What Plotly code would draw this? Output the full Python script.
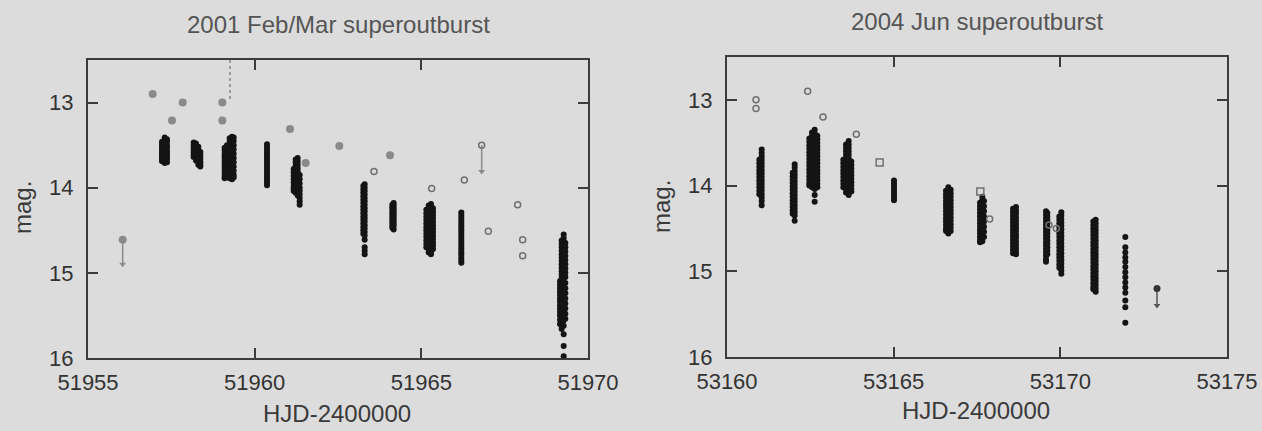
import plotly.graph_objects as go

# ---------------- Left panel: 2001 Feb/Mar superoutburst ----------------
left_ccd_t = [51957.22, 51957.30, 51957.37,
              51958.17, 51958.24, 51958.31, 51958.37,
              51959.10, 51959.17, 51959.25, 51959.32, 51959.37,
              51960.37,
              51961.17, 51961.23, 51961.29, 51961.35,
              51963.26, 51963.30,
              51964.13, 51964.17,
              51965.15, 51965.22, 51965.29, 51965.35,
              51966.20,
              51969.16, 51969.21, 51969.27, 51969.32]
left_ccd_m = [
    [13.46, 13.49, 13.52, 13.55, 13.58, 13.61, 13.64, 13.67, 13.69],
    [13.41, 13.44, 13.47, 13.50, 13.53, 13.56, 13.59, 13.62, 13.65, 13.68, 13.71],
    [13.43, 13.46, 13.50, 13.53, 13.57, 13.60, 13.63, 13.66, 13.70],
    [13.47, 13.50, 13.53, 13.56, 13.59, 13.62, 13.64],
    [13.48, 13.51, 13.54, 13.57, 13.60, 13.63, 13.66, 13.68],
    [13.52, 13.55, 13.58, 13.61, 13.64, 13.67, 13.70, 13.73],
    [13.58, 13.61, 13.64, 13.67, 13.70, 13.73, 13.75],
    [13.53, 13.56, 13.60, 13.63, 13.66, 13.69, 13.72, 13.75, 13.78, 13.81, 13.84, 13.87, 13.89],
    [13.50, 13.54, 13.58, 13.62, 13.66, 13.70, 13.74, 13.78, 13.82, 13.85],
    [13.42, 13.45, 13.49, 13.53, 13.57, 13.61, 13.65, 13.69, 13.73, 13.77, 13.81, 13.85, 13.89],
    [13.40, 13.43, 13.47, 13.51, 13.55, 13.59, 13.63, 13.67, 13.71, 13.75, 13.79, 13.83, 13.87, 13.90],
    [13.41, 13.45, 13.50, 13.55, 13.60, 13.65, 13.70, 13.75, 13.80, 13.85, 13.88],
    [13.49, 13.52, 13.55, 13.58, 13.61, 13.64, 13.67, 13.70, 13.73, 13.76, 13.79, 13.82, 13.85, 13.88, 13.91, 13.94, 13.97],
    [13.78, 13.82, 13.86, 13.90, 13.94, 13.98, 14.01, 14.04],
    [13.67, 13.70, 13.74, 13.78, 13.82, 13.86, 13.90, 13.94, 13.98, 14.02, 14.06],
    [13.65, 13.69, 13.73, 13.77, 13.81, 13.85, 13.89, 13.93, 13.97, 14.01, 14.05, 14.09],
    [13.85, 13.90, 13.95, 14.00, 14.04, 14.08, 14.12, 14.16, 14.20],
    [13.98, 14.02, 14.06, 14.10, 14.14, 14.18, 14.22, 14.26, 14.30, 14.34, 14.38, 14.42, 14.46, 14.50, 14.54],
    [13.96, 14.00, 14.04, 14.08, 14.12, 14.16, 14.20, 14.24, 14.28, 14.32, 14.36, 14.40, 14.44, 14.48, 14.52, 14.56, 14.61, 14.70, 14.74, 14.78],
    [14.20, 14.23, 14.26, 14.29, 14.32, 14.35, 14.38, 14.41, 14.44, 14.47],
    [14.18, 14.21, 14.24, 14.27, 14.30, 14.33, 14.36, 14.39, 14.42, 14.45, 14.49],
    [14.26, 14.30, 14.34, 14.38, 14.42, 14.46, 14.50, 14.54, 14.58, 14.62, 14.66, 14.70],
    [14.21, 14.25, 14.29, 14.33, 14.37, 14.41, 14.45, 14.49, 14.53, 14.57, 14.61, 14.65, 14.69, 14.73, 14.76],
    [14.19, 14.23, 14.27, 14.31, 14.35, 14.39, 14.43, 14.47, 14.51, 14.55, 14.59, 14.63, 14.67, 14.71, 14.75, 14.78],
    [14.24, 14.28, 14.32, 14.36, 14.40, 14.44, 14.48, 14.52, 14.56, 14.60, 14.64, 14.68, 14.72],
    [14.29, 14.32, 14.35, 14.38, 14.41, 14.44, 14.47, 14.50, 14.53, 14.56, 14.59, 14.62, 14.65, 14.68, 14.71, 14.74, 14.77, 14.80, 14.83, 14.86, 14.88],
    [15.10, 15.14, 15.18, 15.22, 15.26, 15.30, 15.34, 15.38, 15.42, 15.46, 15.50, 15.55, 15.60],
    [14.62, 14.66, 14.70, 14.74, 14.78, 14.82, 14.86, 14.90, 14.94, 14.98, 15.02, 15.06, 15.10, 15.14, 15.18, 15.22, 15.26, 15.30, 15.34, 15.38, 15.42, 15.46, 15.50, 15.54, 15.58, 15.62, 15.66],
    [14.55, 14.59, 14.63, 14.67, 14.71, 14.75, 14.79, 14.83, 14.87, 14.91, 14.95, 14.99, 15.03, 15.07, 15.11, 15.15, 15.19, 15.23, 15.27, 15.31, 15.35, 15.39, 15.43, 15.47, 15.51, 15.56, 15.62, 15.72, 15.86, 15.98],
    [14.65, 14.70, 14.75, 14.80, 14.85, 14.90, 14.95, 15.00, 15.05, 15.12, 15.18, 15.24, 15.30, 15.36, 15.42, 15.48, 15.54],
]
left_vis_t = [51956.94, 51957.52, 51957.84, 51959.03, 51959.03, 51961.06, 51961.53, 51962.54, 51964.06, 51956.04]
left_vis_m = [12.90, 13.21, 13.00, 13.00, 13.21, 13.31, 13.71, 13.51, 13.62, 14.61]
left_open_t = [51963.58, 51965.31, 51966.29, 51966.81, 51967.01, 51967.89, 51968.04, 51968.04]
left_open_m = [13.81, 14.01, 13.91, 13.50, 14.51, 14.20, 14.61, 14.80]
left_lim_t = [51956.04, 51966.81]
left_lim_from = [14.61, 13.50]
left_lim_to = [14.90, 13.81]
left_dash_t = [51959.26, 51959.26]
left_dash_m = [12.50, 12.96]

# ---------------- Right panel: 2004 Jun superoutburst ----------------
right_ccd_t = [53160.97, 53161.04,
               53161.97, 53162.03,
               53162.47, 53162.55, 53162.63, 53162.71,
               53163.49, 53163.57, 53163.65, 53163.73,
               53165.01,
               53166.57, 53166.64, 53166.71,
               53167.59, 53167.66, 53167.71,
               53168.58, 53168.67,
               53169.57, 53169.61,
               53169.97, 53170.03,
               53170.99, 53171.06,
               53171.95]
right_ccd_m = [
    [13.70, 13.74, 13.78, 13.82, 13.86, 13.90, 13.94, 13.98, 14.02, 14.06, 14.10],
    [13.58, 13.62, 13.66, 13.70, 13.74, 13.78, 13.82, 13.86, 13.90, 13.94, 13.98, 14.02, 14.06, 14.10, 14.14, 14.18, 14.23],
    [13.85, 13.89, 13.93, 13.97, 14.01, 14.05, 14.09, 14.13, 14.17, 14.21, 14.25, 14.29, 14.33],
    [13.75, 13.79, 13.83, 13.87, 13.91, 13.95, 13.99, 14.03, 14.07, 14.11, 14.15, 14.19, 14.23, 14.27, 14.31, 14.35, 14.41],
    [13.45, 13.49, 13.53, 13.57, 13.61, 13.65, 13.69, 13.73, 13.77, 13.81, 13.85, 13.89, 13.93, 13.97, 14.00],
    [13.38, 13.42, 13.46, 13.50, 13.54, 13.58, 13.62, 13.66, 13.70, 13.74, 13.78, 13.82, 13.86, 13.90, 13.94, 13.98, 14.02],
    [13.35, 13.39, 13.43, 13.47, 13.51, 13.55, 13.59, 13.63, 13.67, 13.71, 13.75, 13.79, 13.83, 13.87, 13.91, 13.95, 13.99, 14.04, 14.11, 14.19],
    [13.42, 13.46, 13.50, 13.54, 13.58, 13.62, 13.66, 13.70, 13.74, 13.78, 13.82, 13.86, 13.90, 13.94, 13.98, 14.02],
    [13.70, 13.74, 13.78, 13.82, 13.86, 13.90, 13.94, 13.98, 14.02],
    [13.52, 13.56, 13.60, 13.64, 13.68, 13.72, 13.76, 13.80, 13.84, 13.88, 13.92, 13.96, 14.00, 14.04, 14.08],
    [13.48, 13.52, 13.56, 13.60, 13.64, 13.68, 13.72, 13.76, 13.80, 13.84, 13.88, 13.92, 13.96, 14.00, 14.04, 14.08, 14.11],
    [13.72, 13.76, 13.80, 13.84, 13.88, 13.92, 13.96, 14.00, 14.04, 14.07],
    [13.94, 13.97, 14.00, 14.03, 14.06, 14.09, 14.12, 14.15, 14.17],
    [14.06, 14.10, 14.14, 14.18, 14.22, 14.26, 14.30, 14.34, 14.38, 14.42, 14.46, 14.50, 14.53],
    [14.02, 14.06, 14.10, 14.14, 14.18, 14.22, 14.26, 14.30, 14.34, 14.38, 14.42, 14.46, 14.50, 14.54, 14.56],
    [14.05, 14.09, 14.13, 14.17, 14.21, 14.25, 14.29, 14.33, 14.37, 14.41, 14.45, 14.49, 14.53],
    [14.20, 14.24, 14.28, 14.32, 14.36, 14.40, 14.44, 14.48, 14.52, 14.56, 14.60, 14.64, 14.66],
    [14.13, 14.17, 14.21, 14.25, 14.29, 14.33, 14.37, 14.41, 14.45, 14.49, 14.53, 14.57, 14.61, 14.65],
    [14.18, 14.24, 14.30, 14.36, 14.42, 14.48, 14.54, 14.60],
    [14.27, 14.31, 14.35, 14.39, 14.43, 14.47, 14.51, 14.55, 14.59, 14.63, 14.67, 14.71, 14.75, 14.79],
    [14.25, 14.29, 14.33, 14.37, 14.41, 14.45, 14.49, 14.53, 14.57, 14.61, 14.65, 14.69, 14.73, 14.77, 14.80],
    [14.30, 14.34, 14.38, 14.42, 14.46, 14.50, 14.54, 14.58, 14.62, 14.66, 14.70, 14.74, 14.78, 14.82, 14.86, 14.89],
    [14.32, 14.36, 14.40, 14.44, 14.48, 14.52, 14.56, 14.60, 14.64, 14.68, 14.72, 14.76, 14.80],
    [14.36, 14.40, 14.44, 14.48, 14.52, 14.56, 14.60, 14.64, 14.68, 14.72, 14.76, 14.80, 14.84, 14.88, 14.92, 14.96],
    [14.31, 14.35, 14.39, 14.43, 14.47, 14.51, 14.55, 14.59, 14.63, 14.67, 14.71, 14.75, 14.79, 14.83, 14.87, 14.91, 14.95, 14.99, 15.03],
    [14.42, 14.46, 14.50, 14.54, 14.58, 14.62, 14.66, 14.70, 14.74, 14.78, 14.82, 14.86, 14.90, 14.94, 14.98, 15.02, 15.06, 15.10, 15.14, 15.18, 15.21],
    [14.40, 14.44, 14.48, 14.52, 14.56, 14.60, 14.64, 14.68, 14.72, 14.76, 14.80, 14.84, 14.88, 14.92, 14.96, 15.00, 15.04, 15.08, 15.12, 15.16, 15.20, 15.24],
    [14.60, 14.72, 14.78, 14.84, 14.89, 14.95, 15.01, 15.07, 15.13, 15.19, 15.25, 15.34, 15.42, 15.60],
]
right_open_t = [53160.87, 53160.87, 53162.42, 53162.88, 53163.88, 53167.88, 53169.66, 53169.88]
right_open_m = [13.00, 13.10, 12.90, 13.20, 13.40, 14.39, 14.46, 14.50]
right_sq_t = [53164.58, 53167.60]
right_sq_m = [13.73, 14.07]
right_lim_t = [53172.90]
right_lim_from = [15.20]
right_lim_to = [15.40]

x_ticks_left = [51955, 51960, 51965, 51970]
x_ticks_right = [53160, 53165, 53170, 53175]
y_ticks = [13, 14, 15, 16]
titles = ["2001 Feb/Mar superoutburst", "2004 Jun superoutburst"]
xlabel = "HJD-2400000"
ylabel = "mag."

BLACK = "#141414"
GRAY = "#8a8a8a"
OPEN = "#707070"
FRAME = "#3c3c3c"
BG = "#dcdcdc"
FONT = "Liberation Sans, Arial, sans-serif"


def flatten(ts, ms):
    xs, ys = [], []
    for t, col in zip(ts, ms):
        for m in col:
            xs.append(t)
            ys.append(m)
    return xs, ys


fig = go.Figure()


def add_limits(ts, froms, tos, color, xa, ya):
    for t, a, b in zip(ts, froms, tos):
        fig.add_trace(go.Scatter(x=[t, t], y=[a, b], mode="lines", xaxis=xa, yaxis=ya,
                                 line=dict(color=color, width=1.5), showlegend=False,
                                 hoverinfo="skip"))
        fig.add_trace(go.Scatter(x=[t], y=[b], mode="markers", xaxis=xa, yaxis=ya,
                                 marker=dict(symbol="triangle-down", size=6, color=color),
                                 showlegend=False, hoverinfo="skip"))


# left panel
add_limits(left_lim_t, left_lim_from, left_lim_to, GRAY, "x", "y")
fig.add_trace(go.Scatter(x=left_dash_t, y=left_dash_m, mode="lines", xaxis="x", yaxis="y",
                         line=dict(color="#9a9a9a", width=2, dash="dot"), showlegend=False))
lx, ly = flatten(left_ccd_t, left_ccd_m)
fig.add_trace(go.Scatter(x=lx, y=ly, mode="markers", xaxis="x", yaxis="y",
                         marker=dict(size=6, color=BLACK), showlegend=False))
fig.add_trace(go.Scatter(x=left_vis_t, y=left_vis_m, mode="markers", xaxis="x", yaxis="y",
                         marker=dict(size=8, color=GRAY), showlegend=False))
fig.add_trace(go.Scatter(x=left_open_t, y=left_open_m, mode="markers", xaxis="x", yaxis="y",
                         marker=dict(size=6, color="rgba(0,0,0,0)", line=dict(color=OPEN, width=1.5)),
                         showlegend=False))

# right panel
add_limits(right_lim_t, right_lim_from, right_lim_to, "#555555", "x2", "y2")
rx, ry = flatten(right_ccd_t, right_ccd_m)
fig.add_trace(go.Scatter(x=rx, y=ry, mode="markers", xaxis="x2", yaxis="y2",
                         marker=dict(size=6, color=BLACK), showlegend=False))
fig.add_trace(go.Scatter(x=right_lim_t, y=right_lim_from, mode="markers", xaxis="x2", yaxis="y2",
                         marker=dict(size=7, color="#333333"), showlegend=False))
fig.add_trace(go.Scatter(x=right_open_t, y=right_open_m, mode="markers", xaxis="x2", yaxis="y2",
                         marker=dict(size=6, color="rgba(0,0,0,0)", line=dict(color=OPEN, width=1.5)),
                         showlegend=False))
fig.add_trace(go.Scatter(x=right_sq_t, y=right_sq_m, mode="markers", xaxis="x2", yaxis="y2",
                         marker=dict(symbol="square-open", size=7, color=OPEN, line=dict(width=1.5)),
                         showlegend=False))

W, H = 1262, 431
axis_common = dict(showgrid=False, zeroline=False, showline=True, linecolor=FRAME, linewidth=2,
                   mirror="ticks", ticks="inside", ticklen=10, tickwidth=2, tickcolor=FRAME,
                   tickformat="d", automargin=False,
                   tickfont=dict(family=FONT, size=22, color="#333333"))

fig.update_layout(
    width=W, height=H, autosize=False,
    margin=dict(l=0, r=0, t=0, b=0, pad=0),
    paper_bgcolor=BG, plot_bgcolor=BG,
    showlegend=False,
    xaxis=dict(domain=[88 / W, 588 / W], range=[51955, 51970], tickvals=x_ticks_left,
               anchor="y", ticklabelstandoff=4, **axis_common),
    yaxis=dict(domain=[1 - 358 / H, 1 - 60 / H], range=[16, 12.5], tickvals=y_ticks,
               anchor="x", ticklabelstandoff=8, **axis_common),
    xaxis2=dict(domain=[727 / W, 1227 / W], range=[53160, 53175], tickvals=x_ticks_right,
                anchor="y2", ticklabelstandoff=4, **axis_common),
    yaxis2=dict(domain=[1 - 357 / H, 1 - 57 / H], range=[16, 12.5], tickvals=y_ticks,
                anchor="x2", ticklabelstandoff=8, **axis_common),
)

ann_font = dict(family=FONT, size=24, color="#3a3a3a")
title_font = dict(family=FONT, size=24, color="#555555")
annots = [
    dict(text=titles[0], x=338 / W, y=1 - 25 / H, font=title_font),
    dict(text=titles[1], x=977 / W, y=1 - 22 / H, font=title_font),
    dict(text=xlabel, x=337 / W, y=1 - 413 / H, font=ann_font),
    dict(text=xlabel, x=976 / W, y=1 - 410 / H, font=ann_font),
    dict(text=ylabel, x=22 / W, y=1 - 208 / H, font=ann_font, textangle=-90),
    dict(text=ylabel, x=661 / W, y=1 - 207 / H, font=ann_font, textangle=-90),
]
for a in annots:
    fig.add_annotation(xref="paper", yref="paper", showarrow=False, xanchor="center",
                       yanchor="middle", **a)

fig.write_html("out.html", config={"responsive": False, "displayModeBar": False},
               post_script="document.body.style.margin='0px';document.body.style.padding='0px';")
